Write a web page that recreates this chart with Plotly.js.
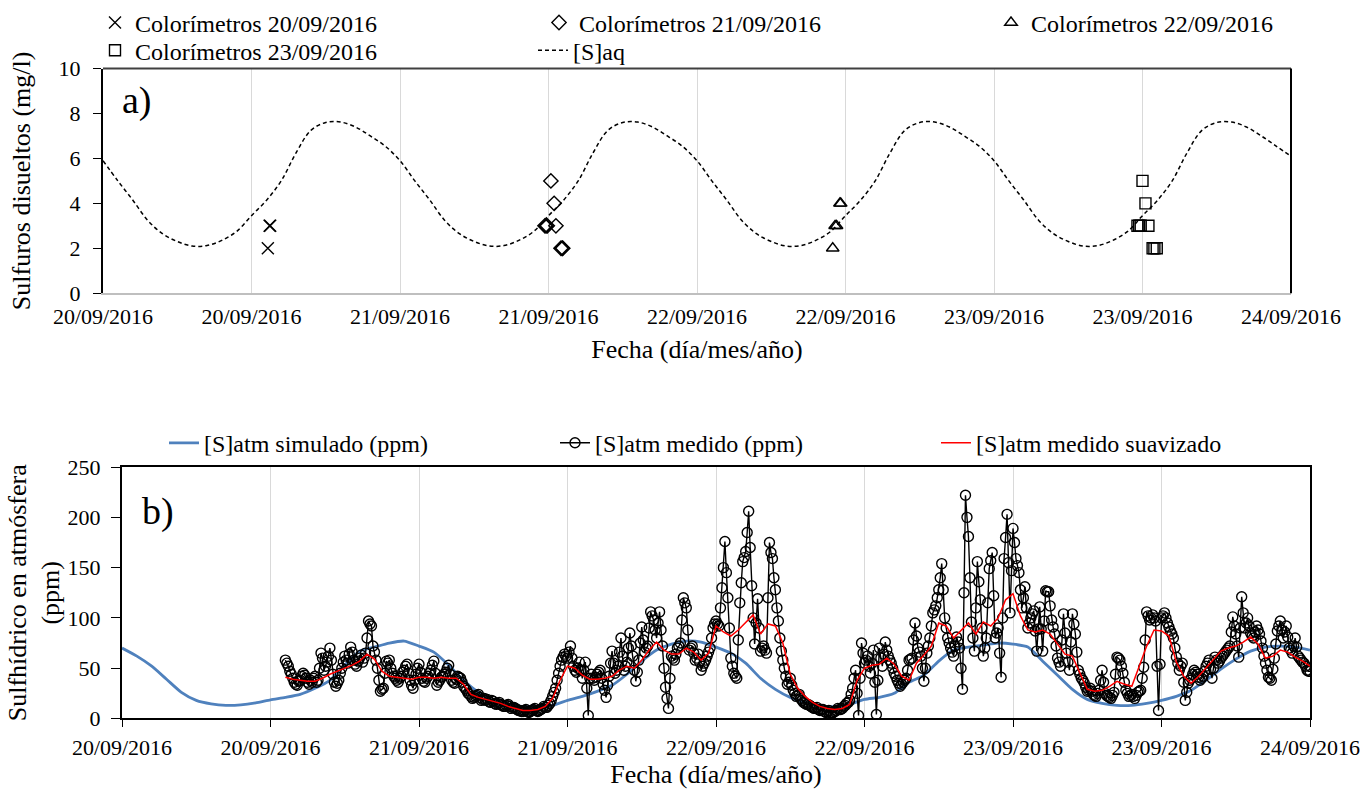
<!DOCTYPE html>
<html>
<head>
<meta charset="utf-8">
<script src="https://cdn.plot.ly/plotly-3.0.1.min.js"></script>
<style>
html,body{margin:0;padding:0;background:#ffffff;}
#chart{width:1367px;height:794px;}
</style>
</head>
<body>
<div id="chart"></div>
<script>
// ---------- shared axis ticks (days since 20/09/2016 00:00) ----------
const tickDays = [0, 0.5, 1, 1.5, 2, 2.5, 3, 3.5, 4];
const tickLabels = ['20/09/2016','20/09/2016','21/09/2016','21/09/2016','22/09/2016','22/09/2016','23/09/2016','23/09/2016','24/09/2016'];
const yTicksA = [0, 2, 4, 6, 8, 10];
const yTicksB = [0, 50, 100, 150, 200, 250];

// ---------- panel a) ----------
const aqStart = 0, aqStep = 0.05;
const aqValues = [
  5.9, 5.0, 4.15, 3.25, 2.65, 2.3, 2.1, 2.12, 2.35, 2.75, 3.45, 4.13, 5.0, 6.25, 7.25, 7.6, 7.62, 7.4, 7.0, 6.55,
  5.9, 5.0, 4.15, 3.25, 2.65, 2.3, 2.1, 2.12, 2.35, 2.75, 3.45, 4.13, 5.0, 6.25, 7.25, 7.6, 7.62, 7.4, 7.0, 6.55,
  5.9, 5.0, 4.15, 3.25, 2.65, 2.3, 2.1, 2.12, 2.35, 2.75, 3.45, 4.13, 5.0, 6.25, 7.25, 7.6, 7.62, 7.4, 7.0, 6.55,
  5.9, 5.0, 4.15, 3.25, 2.65, 2.3, 2.1, 2.12, 2.35, 2.75, 3.45, 4.13, 5.0, 6.25, 7.25, 7.6, 7.62, 7.4, 7.0, 6.55,
  6.1
];
const col20Days = [0.555, 0.561, 0.563];
const col20Vals = [2, 3, 3];
const col21Days = [1.488, 1.492, 1.496, 1.508, 1.519, 1.525, 1.542, 1.546, 1.548];
const col21Vals = [3, 3, 3, 5, 4, 3, 2, 2, 2];
const col22Days = [2.457, 2.465, 2.470, 2.481, 2.484];
const col22Vals = [2, 3, 3, 4, 4];
const col23Days = [3.483, 3.489, 3.494, 3.500, 3.510, 3.520, 3.534, 3.540, 3.548];
const col23Vals = [3, 3, 3, 5, 4, 3, 2, 2, 2];

// ---------- panel b) ----------
const simStart = 0, simStep = 0.05;
const simValues = [
  70, 62, 52, 39, 26, 18, 14.5, 13, 13.5, 15.5, 18.5, 21, 24, 30, 38, 53, 67, 71, 75, 77,
  72, 66, 53, 38, 26, 17, 13, 12, 12, 13, 18, 22, 27, 33, 44, 57, 68, 74, 77, 76,
  71, 65, 55, 40, 29, 21, 16, 12.5, 11.8, 14, 19, 21, 25, 36, 43, 57, 68, 71, 73, 75,
  74, 71, 57, 43, 29, 19, 15, 13, 13, 15, 18, 22, 28, 38, 49, 59, 67, 71, 72, 71,
  68
];
const medStart = 0.55, medStep = 0.005;
const medValues = [
  58,55, 52,47, 44,40, 36,34, 33,37, 38,42, 45,43, 40,36, 34,38, 36,40,
  42,36, 38,50, 65,60, 48,52, 56,62, 70,58, 44,36, 32,35, 38,45, 50,56,
  62,58, 55,64, 71,66, 58,54, 52,57, 60,63, 56,60, 65,80, 97,94, 92,72,
  66,58, 50,38, 27,29, 30,45, 57,55, 58,50, 45,42, 40,38, 36,40, 42,46,
  48,52, 54,45, 38,33, 30,38, 44,50, 54,46, 40,37, 36,40, 42,45, 48,53,
  57,45, 33,36, 38,41, 42,44, 46,50, 53,44, 38,36, 35,39, 42,41, 40,36,
  32,30, 28,25, 24,22, 20,21, 22,23, 24,21, 18,19, 20,18, 19,17, 16,18,
  17,15, 14,15, 16,14, 13,12, 12,13, 14,12, 10,11, 11,10, 9,8, 8,7,
  7,8, 9,7, 6,7, 8,9, 10,8, 7,8, 9,10, 12,11, 11,13, 15,18,
  22,26, 30,38, 45,52, 58,61, 64,62, 60,66, 72,60, 52,48, 46,50, 56,48,
  40,48, 56,30, 3,40, 44,40, 38,41, 44,46, 48,40, 34,28, 21,33, 42,55,
  67,55, 45,48, 52,66, 80,62, 48,52, 56,70, 85,72, 62,48, 37,46, 58,75,
  91,78, 66,70, 72,90, 106,102, 98,88, 80,95, 106,88, 72,50, 31,20, 10,40,
  62,60, 58,64, 70,72, 75,98, 120,115, 110,88, 68,70, 72,65, 58,60, 64,56,
  48,52, 55,58, 62,66, 70,80, 90,94, 97,94, 92,110, 130,150, 176,145, 120,90,
  60,52, 45,42, 40,78, 115,135, 156,160, 166,185, 206,170, 132,100, 74,95, 119,90,
  67,70, 72,68, 65,120, 175,165, 159,140, 128,110, 97,80, 67,58, 50,42, 34,36,
  40,33, 28,25, 22,23, 24,20, 18,16, 15,14, 14,13, 12,11, 10,10, 11,9,
  8,9, 9,7, 6,7, 8,6, 5,6, 7,8, 10,9, 9,10, 12,13, 15,16,
  18,24, 30,40, 48,25, 3,40, 75,65, 55,58, 62,52, 45,55, 68,36, 4,38,
  70,60, 52,64, 76,68, 62,58, 55,50, 45,42, 38,35, 32,34, 36,38, 40,48,
  58,59, 60,78, 95,82, 70,66, 62,50, 37,50, 65,72, 80,92, 105,108, 112,120,
  128,140, 154,128, 100,90, 80,75, 70,66, 62,72, 81,76, 70,50, 29,125, 222,200,
  181,140, 96,80, 67,110, 156,136, 118,90, 62,70, 80,115, 149,157, 165,122, 80,85,
  90,65, 41,100, 159,180, 203,155, 105,147, 189,175, 159,152, 145,128, 110,120, 131,110,
  90,95, 100,104, 107,87, 67,89, 111,89, 67,97, 127,126, 126,112, 98,91, 84,72,
  60,56, 52,78, 104,85, 65,56, 48,76, 104,94, 84,66, 48,44, 40,38, 35,31,
  27,28, 30,27, 24,23, 22,25, 28,38, 48,36, 25,23, 22,21, 20,23, 26,44,
  61,60, 58,52, 45,36, 28,25, 22,23, 24,22, 20,23, 26,27, 28,40, 51,78,
  106,102, 98,100, 103,100, 97,52, 8,54, 100,102, 105,100, 95,91, 87,84, 80,70,
  61,55, 48,52, 55,36, 18,26, 35,38, 40,44, 48,46, 44,41, 38,40, 42,47,
  52,55, 58,49, 40,50, 61,58, 55,57, 60,62, 64,66, 68,70, 72,86, 101,92,
  84,72, 61,90, 121,105, 90,95, 100,92, 85,82, 80,86, 92,88, 84,77, 70,62,
  55,48, 41,40, 38,49, 60,74, 87,92, 97,88, 80,86, 92,81, 70,68, 65,72,
  80,71, 62,60, 58,56, 55,52, 48,47, 47
];
const smoothStart = 0.55, smoothStep = 0.025;
const smoothValues = [
  41, 39, 38, 37, 37, 40, 44, 47, 50, 53, 57, 64, 59, 47, 42, 41, 40, 39, 41, 41,
  40, 41, 40, 40, 34, 24, 21, 19, 17, 15, 12, 10, 8, 8, 9, 12, 20, 38, 52, 50,
  43, 39, 39, 40, 42, 48, 52, 50, 58, 68, 76, 68, 64, 64, 70, 66, 58, 65, 92, 86,
  82, 88, 95, 103, 84, 94, 92, 75, 44, 30, 22, 16, 12, 10, 9, 10, 14, 38, 50, 53,
  54, 60, 54, 42, 38, 55, 63, 72, 95, 92, 80, 88, 95, 84, 96, 92, 100, 118, 124, 102,
  88, 86, 88, 84, 74, 64, 62, 45, 29, 27, 28, 32, 37, 34, 32, 52, 72, 88, 87, 82,
  56, 42, 35, 42, 50, 58, 67, 70, 72, 76, 81, 74, 60, 62, 68, 66, 61, 57, 52
];

// ---------- helpers ----------
const W = 1367, H = 794;
const FONT = 'Liberation Serif';
const grid = (start, step, n) => Array.from({length: n}, (_, i) => +(start + i * step).toFixed(4));
const px = v => v / W;
const py = v => 1 - v / H;

function leg(xText, yMid, extra) {
  return Object.assign({
    x: px(xText - 42), y: py(yMid), xanchor: 'left', yanchor: 'middle',
    orientation: 'h', bgcolor: 'rgba(0,0,0,0)', borderwidth: 0,
    font: {family: FONT, size: 24, color: '#000'}, itemwidth: 30
  }, extra || {});
}

const markerLine = {color: '#000', width: 1.4};
const traces = [
  {x: grid(aqStart, aqStep, aqValues.length), y: aqValues, xaxis: 'x', yaxis: 'y', mode: 'lines',
   name: '[S]aq', legend: 'legend5', line: {color: '#000', width: 1.5, dash: '4px,3px', shape: 'spline', smoothing: 1}},
  {x: col20Days, y: col20Vals, xaxis: 'x', yaxis: 'y', mode: 'markers', name: 'Colorímetros 20/09/2016', legend: 'legend',
   marker: {symbol: 'x-thin-open', size: 12, color: '#000', line: markerLine}},
  {x: col21Days, y: col21Vals, xaxis: 'x', yaxis: 'y', mode: 'markers', name: 'Colorímetros 21/09/2016', legend: 'legend2',
   marker: {symbol: 'diamond-open', size: 11, color: '#000', line: markerLine}},
  {x: col22Days, y: col22Vals, xaxis: 'x', yaxis: 'y', mode: 'markers', name: 'Colorímetros 22/09/2016', legend: 'legend3',
   marker: {symbol: 'triangle-up-open', size: 11, color: '#000', line: markerLine}},
  {x: col23Days, y: col23Vals, xaxis: 'x', yaxis: 'y', mode: 'markers', name: 'Colorímetros 23/09/2016', legend: 'legend4',
   marker: {symbol: 'square-open', size: 11, color: '#000', line: markerLine}},

  {x: grid(simStart, simStep, simValues.length), y: simValues, xaxis: 'x2', yaxis: 'y2', mode: 'lines',
   name: '[S]atm simulado (ppm)', legend: 'legend6', line: {color: '#4F81BD', width: 2.8, shape: 'spline', smoothing: 0.6}},
  {x: grid(medStart, medStep, medValues.length), y: medValues, xaxis: 'x2', yaxis: 'y2', mode: 'lines+markers',
   name: '[S]atm medido (ppm)', legend: 'legend7', line: {color: '#000', width: 1.4},
   marker: {symbol: 'circle-open', size: 10, color: '#000', line: {color: '#000', width: 1.4}}},
  {x: grid(smoothStart, smoothStep, smoothValues.length), y: smoothValues, xaxis: 'x2', yaxis: 'y2', mode: 'lines',
   name: '[S]atm medido suavizado', legend: 'legend8', line: {color: '#FF0000', width: 1.5}}
];

const tickFont = {family: FONT, size: 22, color: '#000'};
const titleFont = {family: FONT, size: 26, color: '#000'};
const PAD = '\u00A0\u00A0\u00A0';

const layout = {
  width: W, height: H,
  margin: {l: 0, r: 0, t: 0, b: 0},
  paper_bgcolor: '#fff', plot_bgcolor: '#fff',
  showlegend: true,
  font: {family: FONT, color: '#000'},
  xaxis: {
    domain: [px(103), px(1291)], range: [0, 4], anchor: 'y',
    tickvals: tickDays, ticktext: tickLabels, tickfont: tickFont,
    ticks: 'outside', ticklen: 2, tickcolor: 'rgba(0,0,0,0)', ticklabelstandoff: 0,
    showgrid: true, gridcolor: '#d9d9d9', gridwidth: 1.3, zeroline: false,
    showline: true, linecolor: '#bfbfbf', linewidth: 2,
    title: {text: 'Fecha (día/mes/año)', font: titleFont, standoff: 12}, automargin: false
  },
  yaxis: {
    domain: [py(290), py(64)], range: [0, 10], anchor: 'x',
    tickvals: yTicksA, ticktext: yTicksA.map(v => PAD + v), tickfont: tickFont,
    ticks: 'outside', ticklen: 8, tickcolor: '#000', tickwidth: 1.3, ticklabelstandoff: 8,
    showgrid: false, zeroline: false, showline: true, linecolor: '#000', linewidth: 2,
    title: {text: 'Sulfuros disueltos (mg/l)', font: titleFont, standoff: 4}, automargin: false
  },
  xaxis2: {
    domain: [px(122), px(1310)], range: [0, 4], anchor: 'y2',
    tickvals: tickDays, ticktext: tickLabels, tickfont: tickFont,
    ticks: 'outside', ticklen: 7, tickcolor: '#000', tickwidth: 1.3, ticklabelstandoff: 1,
    showgrid: true, gridcolor: '#d9d9d9', gridwidth: 1.3, zeroline: false,
    showline: true, linecolor: '#000', linewidth: 2, mirror: true,
    title: {text: 'Fecha (día/mes/año)', font: titleFont, standoff: 6}, automargin: false
  },
  yaxis2: {
    domain: [py(718), py(465)], range: [0, 250], anchor: 'x2',
    tickvals: yTicksB, tickfont: tickFont,
    ticks: 'outside', ticklen: 9, tickcolor: '#000', tickwidth: 1.3, ticklabelstandoff: 6,
    showgrid: false, zeroline: false, showline: true, linecolor: '#000', linewidth: 2, mirror: true,
    title: {text: 'Sulfhídrico en atmósfera<br>(ppm)', font: titleFont, standoff: 0}, automargin: false
  },
  legend:  leg(137, 18),
  legend2: leg(581, 18),
  legend3: leg(1033, 18),
  legend4: leg(137, 46),
  legend5: leg(575, 46),
  legend6: leg(206, 441),
  legend7: leg(597, 441),
  legend8: leg(978, 441),
  shapes: [
    {type: 'line', xref: 'x domain', yref: 'y domain', x0: 0, x1: 1, y0: 1, y1: 1, line: {color: '#404040', width: 2}},
    {type: 'line', xref: 'x domain', yref: 'y domain', x0: 1, x1: 1, y0: 0, y1: 1, line: {color: '#000', width: 2}}
  ],
  annotations: [
    {text: 'a)', xref: 'paper', yref: 'paper', x: px(137), y: py(96), xanchor: 'center', yanchor: 'middle',
     showarrow: false, font: {family: FONT, size: 38, color: '#000'}},
    {text: 'b)', xref: 'paper', yref: 'paper', x: px(158), y: py(510), xanchor: 'center', yanchor: 'middle',
     showarrow: false, font: {family: FONT, size: 38, color: '#000'}}
  ]
};

Plotly.newPlot('chart', traces, layout, {displayModeBar: false, responsive: false});
</script>
</body>
</html>
